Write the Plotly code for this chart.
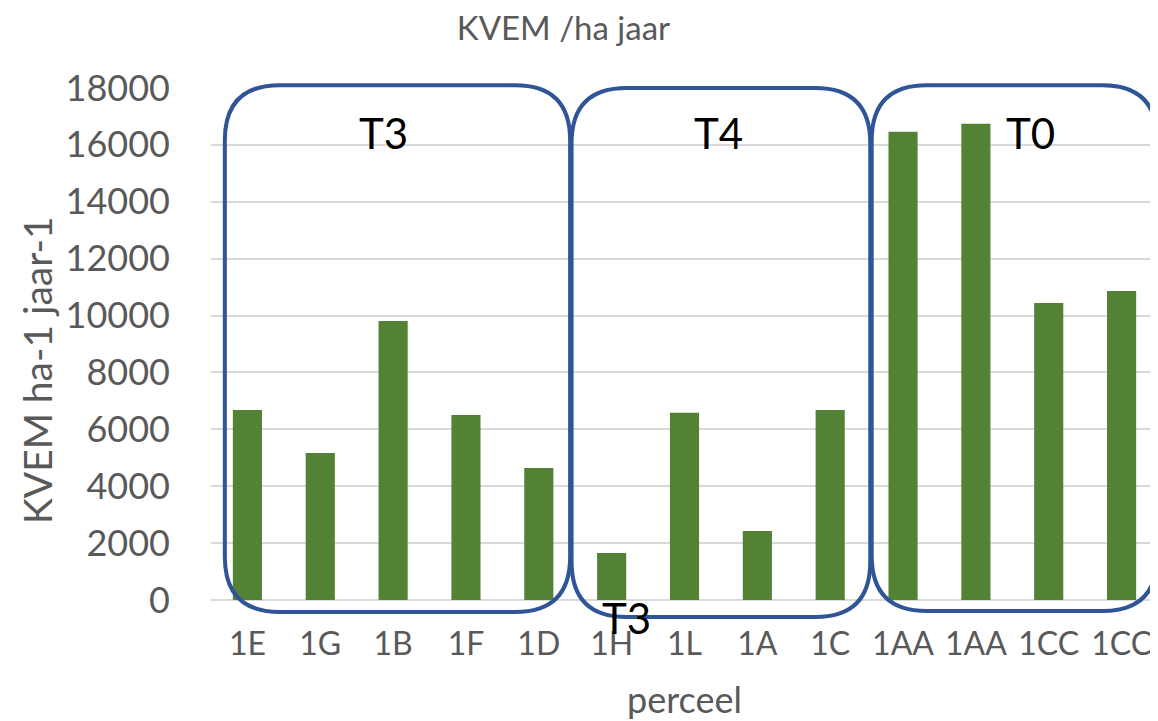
import plotly.graph_objects as go

categories = ["1E", "1G", "1B", "1F", "1D", "1H", "1L", "1A", "1C", "1AA", "1AA", "1CC", "1CC"]
values = [6680, 5170, 9810, 6500, 4640, 1650, 6580, 2430, 6680, 16460, 16740, 10440, 10860]
y_ticks = [0, 2000, 4000, 6000, 8000, 10000, 12000, 14000, 16000, 18000]

# group boxes in data units: (label, x_left, x_right, y_bottom, y_top)
groups = [
    ("T3", -0.31, 4.43, -420, 18100),
    ("T4", 4.45, 8.55, -600, 18000),
    ("T0", 8.57, 12.49, -390, 18100),
]
group_label_pos = [("T3", 1.87, 16420), ("T4", 6.47, 16420), ("T0", 10.75, 16420)]
extra_label = ("T3", 5.2, -640)

# page body has an 8px margin, so the figure is offset accordingly
W, H = 1150, 713
ML, MR, MT, MB = 203, 0, 80, 121
XR = [-0.5, len(categories) - 0.5]
YR = [0, 18000]
PW, PH = W - ML - MR, H - MT - MB

def px(x):
    return (x - XR[0]) / (XR[1] - XR[0])

def py(y):
    return (y - YR[0]) / (YR[1] - YR[0])

def rounded(x0, x1, y0, y1, r=55):
    rx, ry = r / PW, r / PH
    a, b, c, d = px(x0), px(x1), py(y0), py(y1)
    return (f"M {a+rx},{d} L {b-rx},{d} Q {b},{d} {b},{d-ry} "
            f"L {b},{c+ry} Q {b},{c} {b-rx},{c} "
            f"L {a+rx},{c} Q {a},{c} {a},{c+ry} "
            f"L {a},{d-ry} Q {a},{d} {a+rx},{d} Z")

x_idx = list(range(len(categories)))

fig = go.Figure(go.Bar(x=x_idx, y=values, marker=dict(color="#548235", line=dict(width=0)),
                       width=0.4))

shapes = [dict(type="path", xref="paper", yref="paper", path=rounded(x0, x1, y0, y1),
               line=dict(color="#2F5597", width=4), fillcolor="rgba(0,0,0,0)")
          for _, x0, x1, y0, y1 in groups]

annotations = [dict(x=px(x), y=py(y), xref="paper", yref="paper", text=t, showarrow=False,
                    xanchor="center", yanchor="middle",
                    font=dict(size=42, color="#000000", family="Lato"))
               for t, x, y in group_label_pos]
annotations.append(dict(x=px(extra_label[1]), y=py(extra_label[2]), xref="paper", yref="paper",
                        text=extra_label[0], showarrow=False, xanchor="center", yanchor="middle",
                        font=dict(size=42, color="#000000", family="Lato")))
# y axis title
annotations.append(dict(x=-174 / PW, y=0.449, xref="paper", yref="paper",
                        text="KVEM ha-1 jaar-1", textangle=-90, showarrow=False,
                        xanchor="center", yanchor="middle",
                        font=dict(size=39, color="#595959", family="Lato")))

fig.update_layout(
    width=W, height=H,
    margin=dict(l=ML, r=MR, t=MT, b=MB, autoexpand=False),
    plot_bgcolor="white", paper_bgcolor="white",
    showlegend=False,
    font=dict(family="Lato", color="#595959"),
    title=dict(text="KVEM /ha jaar", x=0.483, xanchor="center", y=0.972, yanchor="middle",
               font=dict(size=33, color="#595959", family="Lato")),
    xaxis=dict(range=XR, tickmode="array", tickvals=x_idx, ticktext=categories,
               tickfont=dict(size=32, color="#595959"), showgrid=False, ticks="",
               showline=False, zeroline=False, automargin=False, ticklabelstandoff=22,
               title=dict(text="perceel", font=dict(size=36, color="#595959"), standoff=36)),
    yaxis=dict(range=YR, tickmode="array", tickvals=y_ticks, ticktext=[str(v) for v in y_ticks],
               tickfont=dict(size=36, color="#595959"), showgrid=True, gridcolor="#d9d9d9",
               gridwidth=1.5, zeroline=True, zerolinecolor="#d9d9d9", zerolinewidth=1.5,
               ticks="", ticklabelstandoff=40, automargin=False),
    shapes=shapes, annotations=annotations,
)

fig.write_html("out.html")
